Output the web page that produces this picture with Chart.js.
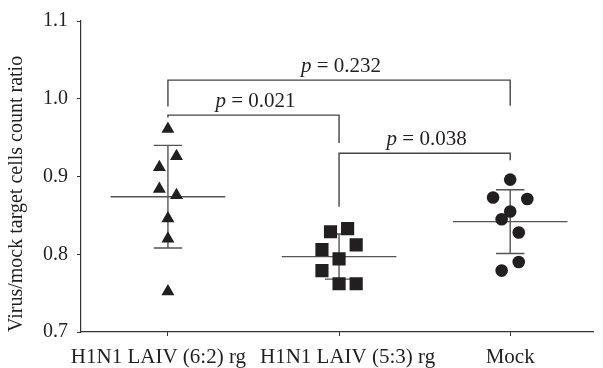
<!DOCTYPE html>
<html>
<head>
<meta charset="utf-8">
<script src="https://cdn.jsdelivr.net/npm/chart.js@4.4.1/dist/chart.umd.min.js"></script>
<style>
  html, body { margin: 0; padding: 0; background: #fff; }
  #wrap { width: 603px; height: 368px; position: relative; }
</style>
</head>
<body>
<div id="wrap"><canvas id="chart"></canvas></div>
<script>
// groups along x
const categories = ['H1N1 LAIV (6:2) rg', 'H1N1 LAIV (5:3) rg', 'Mock'];

// individual ratios per group, with horizontal scatter offset (in category units)
const laiv62Values = [0.961, 0.926, 0.912, 0.884, 0.876, 0.846, 0.820, 0.752];
const laiv62Jitter = [0, 0.05, -0.05, -0.05, 0.05, 0, 0, 0];
const laiv53Values = [0.829, 0.833, 0.812, 0.806, 0.794, 0.779, 0.762, 0.762];
const laiv53Jitter = [-0.05, 0.05, 0.1, -0.1, 0, -0.1, 0, 0.1];
const mockValues = [0.896, 0.873, 0.871, 0.855, 0.845, 0.828, 0.790, 0.779];
const mockJitter = [0, -0.1, 0.1, 0, -0.05, 0.05, 0.05, -0.05];

// mean +/- SD per group
const groupMeans = [0.874, 0.797, 0.842];
const groupSDs = [0.066, 0.029, 0.041];

// y axis ticks
const yTicks = [0.7, 0.8, 0.9, 1.0, 1.1];

// significance brackets
const bracketPairs = [[0, 2], [0, 1], [1, 2]];
const bracketTops = [1.024, 0.979, 0.930];
const bracketEnds = [[0.990, 0.991], [0.976, 0.943], [0.861, 0.921]];
const pValues = ['0.232', '0.021', '0.038'];

const FONT = '"Liberation Serif", "DejaVu Serif", serif';
const INK = '#231f20';

function points(values, jitter, group) {
  return values.map((v, i) => ({ x: group + jitter[i], y: v }));
}

// mean line, SD bars, brackets and category labels
const statsPlugin = {
  id: 'stats',
  beforeDatasetsDraw(chart) {
    const { ctx, scales: { x, y } } = chart;
    ctx.save();
    ctx.strokeStyle = '#555';
    ctx.lineWidth = 1.4;
    groupMeans.forEach((m, i) => {
      const sd = groupSDs[i];
      const cx = x.getPixelForValue(i);
      const yMean = y.getPixelForValue(m);
      const yHi = y.getPixelForValue(m + sd);
      const yLo = y.getPixelForValue(m - sd);
      const half = x.getPixelForValue(i + 0.335) - cx;
      const cap = x.getPixelForValue(i + 0.083) - cx;
      ctx.beginPath();
      ctx.moveTo(cx - half, yMean); ctx.lineTo(cx + half, yMean);
      ctx.moveTo(cx, yHi); ctx.lineTo(cx, yLo);
      ctx.moveTo(cx - cap, yHi); ctx.lineTo(cx + cap, yHi);
      ctx.moveTo(cx - cap, yLo); ctx.lineTo(cx + cap, yLo);
      ctx.stroke();
    });
    ctx.restore();
  },
  afterDatasetsDraw(chart) {
    const { ctx, chartArea, scales: { x, y } } = chart;
    ctx.save();
    ctx.strokeStyle = '#444';
    ctx.lineWidth = 1.4;
    bracketPairs.forEach((pair, i) => {
      const x1 = x.getPixelForValue(pair[0]);
      const x2 = x.getPixelForValue(pair[1]);
      const yTop = y.getPixelForValue(bracketTops[i]);
      ctx.beginPath();
      ctx.moveTo(x1, y.getPixelForValue(bracketEnds[i][0]));
      ctx.lineTo(x1, yTop);
      ctx.lineTo(x2, yTop);
      ctx.lineTo(x2, y.getPixelForValue(bracketEnds[i][1]));
      ctx.stroke();

      // p = value label
      const rest = ' = ' + pValues[i];
      ctx.fillStyle = INK;
      ctx.textBaseline = 'alphabetic';
      ctx.font = 'italic 21px ' + FONT;
      const wp = ctx.measureText('p').width;
      ctx.font = '21px ' + FONT;
      const wr = ctx.measureText(rest).width;
      const left = (x1 + x2) / 2 - (wp + wr) / 2 + 2;
      const base = yTop - 8;
      ctx.font = 'italic 21px ' + FONT;
      ctx.fillText('p', left, base);
      ctx.font = '21px ' + FONT;
      ctx.fillText(rest, left + wp, base);
    });

    // category labels, the two long ones nudged apart so they don't touch
    const nudge = [-9.5, 8.5, 0];
    ctx.font = '21px ' + FONT;
    ctx.textAlign = 'center';
    ctx.textBaseline = 'alphabetic';
    ctx.fillStyle = INK;
    categories.forEach((c, i) => {
      ctx.fillText(c, x.getPixelForValue(i) + nudge[i], chartArea.bottom + 31);
    });
    ctx.restore();
  }
};

const markerStyle = (style, radius) => ({
  pointStyle: style,
  pointRadius: radius,
  pointHoverRadius: radius,
  pointBackgroundColor: INK,
  pointBorderWidth: 0,
  showLine: false
});

new Chart(document.getElementById('chart'), {
  type: 'scatter',
  data: {
    datasets: [
      { label: categories[0], data: points(laiv62Values, laiv62Jitter, 0), ...markerStyle('triangle', 7.5) },
      { label: categories[1], data: points(laiv53Values, laiv53Jitter, 1), ...markerStyle('rect', 9.3) },
      { label: categories[2], data: points(mockValues, mockJitter, 2), ...markerStyle('circle', 6.3) }
    ]
  },
  options: {
    responsive: true,
    maintainAspectRatio: false,
    animation: false,
    events: [],
    layout: { padding: { top: 19, right: 0, bottom: 0, left: 0 } },
    plugins: {
      legend: { display: false },
      tooltip: { enabled: false }
    },
    scales: {
      x: {
        type: 'linear',
        min: -0.508,
        max: 2.488,
        afterFit(scale) { scale.height = 36; },
        afterBuildTicks(scale) { scale.ticks = categories.map((c, i) => ({ value: i })); },
        grid: { display: true, drawOnChartArea: false, drawTicks: true, tickLength: 4, color: '#333' },
        border: { display: true, color: '#333', width: 1.2 },
        ticks: { display: false }
      },
      y: {
        min: 0.7,
        max: 1.1,
        afterFit(scale) { scale.width = 81; },
        afterBuildTicks(scale) { scale.ticks = yTicks.map(v => ({ value: v })); },
        grid: { display: true, drawOnChartArea: false, drawTicks: true, tickLength: 4, color: '#333' },
        border: { display: true, color: '#333', width: 1.2 },
        ticks: {
          padding: 9,
          color: INK,
          font: { family: FONT, size: 20 },
          callback: (v) => v.toFixed(1)
        },
        title: {
          display: true,
          text: 'Virus/mock target cells count ratio',
          align: 'start',
          color: INK,
          font: { family: FONT, size: 20 },
          padding: { top: 5, bottom: 0 }
        }
      }
    }
  },
  plugins: [statsPlugin]
});
</script>
</body>
</html>
